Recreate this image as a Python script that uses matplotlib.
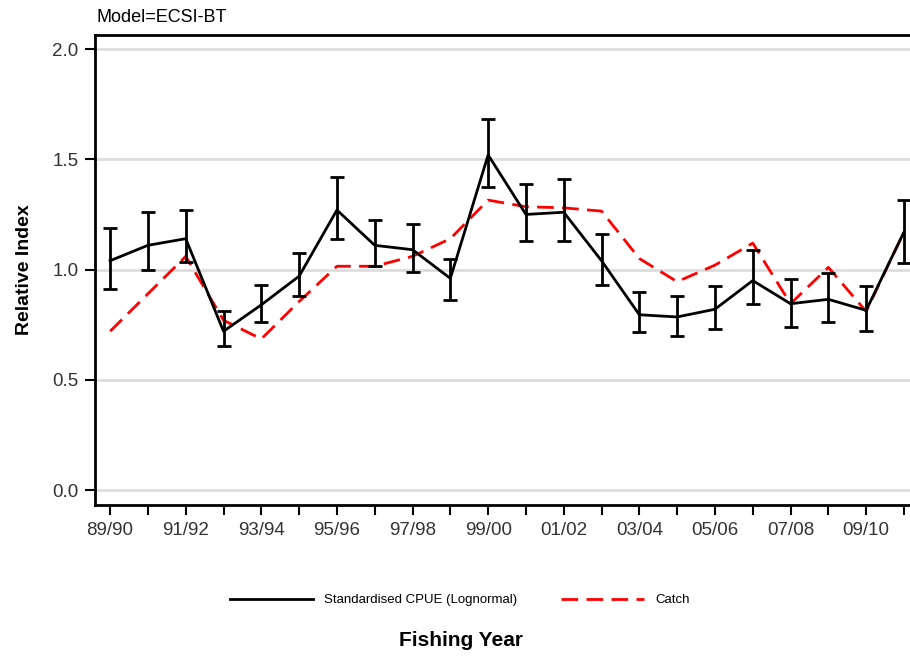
import matplotlib
matplotlib.use("Agg")
import matplotlib.pyplot as plt
import numpy as np

plt.rcParams['font.family'] = ['Liberation Sans', 'DejaVu Sans']

years = ["89/90", "90/91", "91/92", "92/93", "93/94", "94/95", "95/96", "96/97",
         "97/98", "98/99", "99/00", "00/01", "01/02", "02/03", "03/04", "04/05",
         "05/06", "06/07", "07/08", "08/09", "09/10", "10/11"]

cpue = [1.04, 1.11, 1.14, 0.72, 0.84, 0.97, 1.27, 1.11, 1.09, 0.96, 1.52,
        1.25, 1.26, 1.04, 0.795, 0.785, 0.82, 0.95, 0.845, 0.865, 0.815, 1.17]
cpue_upper = [1.19, 1.26, 1.27, 0.81, 0.93, 1.075, 1.42, 1.225, 1.205, 1.05, 1.685,
              1.39, 1.41, 1.16, 0.90, 0.88, 0.925, 1.09, 0.955, 0.985, 0.925, 1.315]
cpue_lower = [0.91, 1.00, 1.035, 0.655, 0.76, 0.88, 1.14, 1.015, 0.99, 0.86, 1.375,
              1.13, 1.13, 0.93, 0.715, 0.70, 0.73, 0.845, 0.74, 0.76, 0.72, 1.03]
catch = [0.72, 0.89, 1.06, 0.77, 0.685, 0.855, 1.015, 1.015, 1.06, 1.14, 1.315,
         1.285, 1.28, 1.265, 1.05, 0.945, 1.02, 1.12, 0.845, 1.01, 0.81, 1.17]

x = np.arange(len(years))
cpue = np.array(cpue)
yerr = [cpue - np.array(cpue_lower), np.array(cpue_upper) - cpue]

fig = plt.figure(figsize=(9.1, 6.57), dpi=100)
ax = fig.add_axes([95 / 910, 152 / 657, 815 / 910, 470 / 657])

# light grey reference lines
for v in [0.0, 0.5, 1.0, 1.5, 2.0]:
    ax.axhline(v, color="#dddddd", lw=2, zorder=0)

ax.errorbar(x, cpue, yerr=yerr, fmt="none", ecolor="black", elinewidth=2,
            capsize=5, capthick=2, zorder=3)
ax.plot(x, cpue, color="black", lw=2, zorder=3,
        label="Standardised CPUE (Lognormal)")
ax.plot(x, catch, color="red", lw=2, dashes=(6, 3), zorder=2, label="Catch")

ax.set_xlim(-0.4, 21.16)
ax.set_ylim(-0.068, 2.064)
ax.set_xticks(x)
ax.set_xticklabels([y if i % 2 == 0 else "" for i, y in enumerate(years)])
ax.set_yticks([0.0, 0.5, 1.0, 1.5, 2.0])
ax.set_yticklabels(["0.0", "0.5", "1.0", "1.5", "2.0"])
ax.tick_params(axis="both", direction="out", length=7, width=1.5,
               labelsize=13.5, labelcolor="#333333", pad=5)

ax.spines["right"].set_visible(False)
for s in ["top", "left", "bottom"]:
    ax.spines[s].set_linewidth(2)

ax.set_ylabel("Relative Index", fontsize=14, fontweight="bold", labelpad=14)
fig.text(461 / 910, 1 - 640 / 657, "Fishing Year", fontsize=15,
         fontweight="bold", ha="center", va="center")
fig.text(97 / 910, 1 - 18 / 657, "Model=ECSI-BT", fontsize=13,
         ha="left", va="center")

fig.legend(loc="center", bbox_to_anchor=(460 / 910, 1 - 600 / 657), ncol=2,
           frameon=False, fontsize=9.5, handlelength=6.3, handletextpad=0.85,
           columnspacing=3.3)

fig.savefig("out.png", dpi=100)
